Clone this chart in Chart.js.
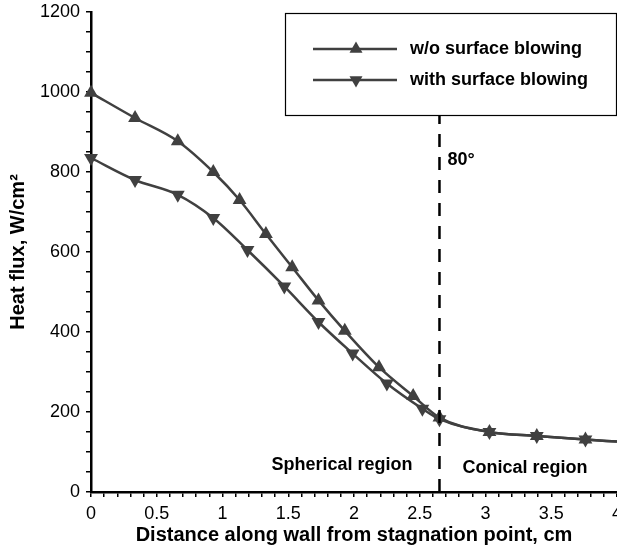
<!DOCTYPE html>
<html>
<head>
<meta charset="utf-8">
<script src="https://cdn.jsdelivr.net/npm/chart.js@4/dist/chart.umd.min.js"></script>
<style>
  html, body { margin: 0; padding: 0; background: #fff; }
  #wrap { width: 617px; height: 557px; position: relative; }
</style>
</head>
<body>
<div id="wrap"><canvas id="chart"></canvas></div>
<script>
// Series data (x in cm, heat flux in W/cm2)
const noBlowX = [0, 0.335, 0.66, 0.93, 1.13, 1.33, 1.53, 1.73, 1.93, 2.19, 2.45, 2.65, 3.03, 3.39, 3.76, 4.0];
const noBlowY = [998, 935, 877, 800, 730, 645, 562, 479, 403, 312, 240, 186, 150, 140, 131, 126];
const blowX = [0, 0.335, 0.66, 0.93, 1.19, 1.47, 1.73, 1.99, 2.25, 2.52, 2.65, 3.03, 3.39, 3.76, 4.0];
const blowY = [835, 780, 743, 685, 605, 514, 425, 346, 271, 208, 182, 150, 140, 131, 126];

const seriesLabels = ['w/o surface blowing', 'with surface blowing'];
const regionLabels = ['Spherical region', 'Conical region'];
const boundaryX = 2.65;   // sphere-cone junction
const boundaryLabel = '80°';

const xTitle = 'Distance along wall from stagnation point, cm';
const yTitle = 'Heat flux, W/cm²';

const lineColor = '#404040';
const fontFamily = '"Liberation Sans", Arial, Helvetica, sans-serif';

function toPoints(xs, ys) {
    return xs.map((x, i) => ({ x: x, y: ys[i] }));
}

// no marker on the final point (line just runs out to the axis end)
function radii(xs) {
    return xs.map((x, i) => (i === xs.length - 1 ? 0 : 8));
}

// Draw a filled triangle marker
function triangle(ctx, x, y, r, down) {
    const s = down ? -1 : 1;
    ctx.beginPath();
    ctx.moveTo(x, y - s * r);
    ctx.lineTo(x + r * 0.866, y + s * r * 0.5);
    ctx.lineTo(x - r * 0.866, y + s * r * 0.5);
    ctx.closePath();
    ctx.fill();
}

// Dashed boundary, region labels and the boxed legend
const decorations = {
    id: 'decorations',
    afterDatasetsDraw(chart) {
        const ctx = chart.ctx;
        const xs = chart.scales.x;
        const area = chart.chartArea;
        const bx = xs.getPixelForValue(boundaryX);

        ctx.save();
        // legend box
        const lx = 285, ly = 13, lw = 331, lh = 102;

        ctx.strokeStyle = '#000';
        ctx.lineWidth = 2.5;
        ctx.setLineDash([13, 10]);
        ctx.beginPath();
        ctx.moveTo(bx, area.bottom);
        ctx.lineTo(bx, ly + lh);
        ctx.stroke();
        ctx.setLineDash([]);

        ctx.fillStyle = '#000';
        ctx.font = 'bold 18px ' + fontFamily;
        ctx.textBaseline = 'middle';
        ctx.textAlign = 'left';
        ctx.fillText(boundaryLabel, bx + 8, 160);
        ctx.textAlign = 'right';
        ctx.fillText(regionLabels[0], bx - 27, 465);
        ctx.textAlign = 'left';
        ctx.fillText(regionLabels[1], bx + 23, 468);

        ctx.fillStyle = '#fff';
        ctx.fillRect(lx, ly, lw, lh);
        ctx.strokeStyle = '#000';
        ctx.lineWidth = 1.2;
        ctx.strokeRect(lx + 0.5, ly + 0.5, lw, lh);

        const rows = [49, 80];
        rows.forEach((ry, i) => {
            ctx.strokeStyle = lineColor;
            ctx.lineWidth = 2.5;
            ctx.beginPath();
            ctx.moveTo(313, ry);
            ctx.lineTo(397, ry);
            ctx.stroke();
            ctx.fillStyle = lineColor;
            triangle(ctx, 356, ry, 7.5, i === 1);
            ctx.fillStyle = '#000';
            ctx.font = 'bold 18px ' + fontFamily;
            ctx.textAlign = 'left';
            ctx.textBaseline = 'middle';
            ctx.fillText(seriesLabels[i], 410, ry);
        });
        ctx.restore();
    }
};

const ctx = document.getElementById('chart').getContext('2d');
new Chart(ctx, {
    type: 'line',
    data: {
        datasets: [
            {
                label: seriesLabels[0],
                data: toPoints(noBlowX, noBlowY),
                borderColor: lineColor,
                backgroundColor: lineColor,
                borderWidth: 2.5,
                pointStyle: 'triangle',
                pointRadius: radii(noBlowX),
                pointBorderWidth: 0,
                cubicInterpolationMode: 'monotone',
                fill: false
            },
            {
                label: seriesLabels[1],
                data: toPoints(blowX, blowY),
                borderColor: lineColor,
                backgroundColor: lineColor,
                borderWidth: 2.5,
                pointStyle: 'triangle',
                pointRotation: 180,
                pointRadius: radii(blowX),
                pointBorderWidth: 0,
                cubicInterpolationMode: 'monotone',
                fill: false
            }
        ]
    },
    options: {
        responsive: true,
        maintainAspectRatio: false,
        animation: false,
        clip: false,
        layout: { autoPadding: false, padding: { top: 12, right: 0, left: 0, bottom: 0 } },
        plugins: {
            legend: { display: false },
            tooltip: { enabled: false }
        },
        scales: {
            x: {
                type: 'linear',
                min: 0,
                max: 4,
                border: { display: true, color: '#000', width: 2.5 },
                grid: { drawOnChartArea: false, drawTicks: true, tickLength: 5, color: '#000', lineWidth: 1.5 },
                ticks: {
                    stepSize: 0.1,
                    autoSkip: false,
                    maxRotation: 0,
                    padding: 6,
                    color: '#000',
                    font: { family: fontFamily, size: 18 },
                    callback: v => (Math.abs(v * 2 - Math.round(v * 2)) < 1e-6 ? String(Math.round(v * 2) / 2) : '')
                },
                title: {
                    display: true,
                    text: xTitle,
                    color: '#000',
                    font: { family: fontFamily, size: 20, weight: 'bold' },
                    padding: { top: 0, bottom: 10 }
                },
                afterFit(scale) {
                    scale.height = 65;
                    scale.paddingLeft = 0;
                    scale.paddingRight = 0;
                }
            },
            y: {
                min: 0,
                max: 1200,
                border: { display: true, color: '#000', width: 2.5 },
                grid: { drawOnChartArea: false, drawTicks: true, tickLength: 5, color: '#000', lineWidth: 1.5 },
                ticks: {
                    stepSize: 50,
                    autoSkip: false,
                    padding: 6,
                    color: '#000',
                    font: { family: fontFamily, size: 18 },
                    callback: v => (v % 200 === 0 ? String(v) : '')
                },
                title: {
                    display: true,
                    text: yTitle,
                    color: '#000',
                    font: { family: fontFamily, size: 20, weight: 'bold' },
                    padding: { top: 6, bottom: 0 }
                },
                afterFit(scale) {
                    scale.width = 91;
                    scale.paddingTop = 0;
                    scale.paddingBottom = 0;
                }
            }
        }
    },
    plugins: [decorations]
});
</script>
</body>
</html>
